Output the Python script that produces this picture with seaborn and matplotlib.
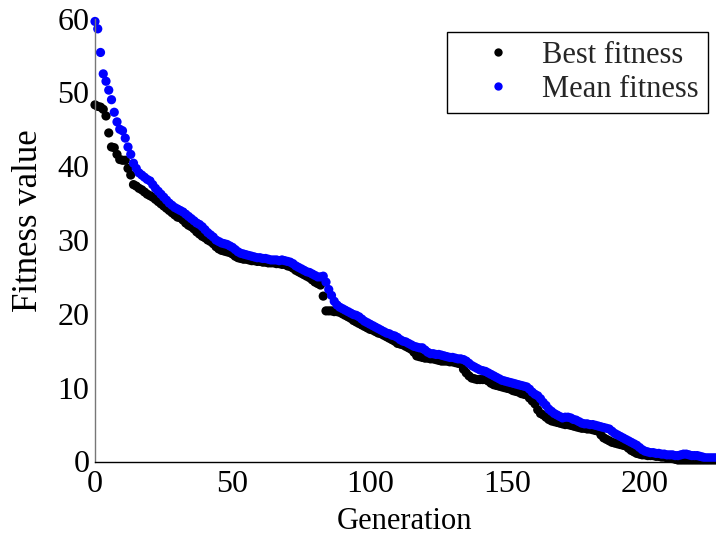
import numpy as np
import pandas as pd
import matplotlib
matplotlib.use("Agg")
import matplotlib.pyplot as plt
import seaborn as sns

# ---------------- data ----------------
best_fitness = [
    48.3, 48.1, 48.0, 47.7, 46.8, 44.5, 42.6, 42.5, 41.6, 40.9,
    40.8, 40.8, 39.7, 38.8, 37.5, 37.3, 37.0, 36.8, 36.5, 36.2,
    36.0, 35.8, 35.5, 35.2, 34.9, 34.6, 34.3, 34.0, 33.7, 33.4,
    33.1, 33.0, 32.7, 32.3, 32.0, 31.8, 31.5, 31.1, 30.8, 30.5,
    30.3, 30.0, 29.8, 29.5, 29.1, 28.8, 28.6, 28.5, 28.4, 28.3,
    28.1, 27.8, 27.6, 27.5, 27.4, 27.4, 27.3, 27.2, 27.2, 27.1,
    27.1, 27.0, 27.0, 26.9, 26.9, 26.9, 26.8, 26.8, 26.7, 26.7,
    26.5, 26.4, 26.2, 25.9, 25.7, 25.5, 25.3, 25.1, 24.9, 24.6,
    24.3, 24.1, 23.9, 22.4, 20.4, 20.4, 20.4, 20.3, 20.3, 20.2,
    20.0, 19.8, 19.6, 19.4, 19.1, 18.9, 18.7, 18.5, 18.3, 18.1,
    17.9, 17.8, 17.6, 17.4, 17.3, 17.1, 16.9, 16.7, 16.5, 16.3,
    16.0, 15.9, 15.8, 15.6, 15.4, 15.2, 14.8, 14.3, 14.2, 14.1,
    14.0, 14.0, 13.9, 13.9, 13.8, 13.7, 13.6, 13.6, 13.6, 13.5,
    13.5, 13.4, 13.3, 13.2, 12.5, 12.0, 11.6, 11.3, 11.2, 11.1,
    11.1, 11.1, 11.1, 10.9, 10.6, 10.4, 10.3, 10.2, 10.1, 10.0,
    9.9, 9.8, 9.6, 9.5, 9.4, 9.2, 9.1, 9.0, 8.6, 8.2,
    7.8, 7.0, 6.5, 6.3, 6.0, 5.7, 5.5, 5.4, 5.3, 5.2,
    5.1, 5.0, 5.0, 4.9, 4.8, 4.7, 4.6, 4.5, 4.5, 4.4,
    4.4, 4.3, 4.2, 4.1, 3.6, 3.2, 3.0, 2.8, 2.6, 2.5,
    2.4, 2.3, 2.2, 2.1, 1.8, 1.5, 1.3, 1.1, 1.0, 0.9,
    0.9, 0.8, 0.8, 0.8, 0.7, 0.7, 0.6, 0.6, 0.5, 0.5,
    0.4, 0.3, 0.2, 0.2, 0.2, 0.2, 0.2, 0.2, 0.2, 0.2,
    0.2, 0.2, 0.2, 0.2, 0.2, 0.2, 0.2,
]

mean_fitness = [
    59.6, 58.6, 55.4, 52.5, 51.5, 50.3, 49.0, 47.3, 46.0, 45.0,
    44.8, 43.8, 42.6, 41.6, 40.4, 39.7, 39.1, 38.8, 38.5, 38.2,
    38.0, 37.5, 37.0, 36.6, 36.2, 35.8, 35.4, 35.0, 34.7, 34.4,
    34.2, 34.0, 33.8, 33.5, 33.2, 32.9, 32.6, 32.3, 32.1, 31.8,
    31.4, 31.0, 30.7, 30.4, 30.0, 29.8, 29.6, 29.5, 29.4, 29.2,
    29.0, 28.7, 28.4, 28.2, 28.1, 28.0, 27.9, 27.8, 27.7, 27.6,
    27.6, 27.5, 27.5, 27.4, 27.3, 27.3, 27.3, 27.2, 27.3, 27.2,
    27.1, 27.0, 26.8, 26.5, 26.3, 26.1, 25.9, 25.7, 25.6, 25.4,
    25.2, 25.0, 25.0, 25.1, 24.3, 23.3, 22.5, 21.7, 21.2, 20.9,
    20.7, 20.5, 20.3, 20.1, 19.9, 19.8, 19.6, 19.3, 19.0, 18.8,
    18.6, 18.4, 18.2, 18.0, 17.8, 17.6, 17.4, 17.3, 17.1, 17.0,
    16.8, 16.5, 16.3, 16.2, 16.0, 15.8, 15.6, 15.5, 15.4, 15.4,
    15.1, 14.8, 14.6, 14.6, 14.5, 14.5, 14.4, 14.3, 14.2, 14.1,
    14.1, 14.0, 13.9, 13.9, 13.8, 13.6, 13.3, 13.0, 12.8, 12.6,
    12.4, 12.3, 12.2, 12.0, 11.8, 11.6, 11.4, 11.2, 11.0, 10.9,
    10.8, 10.7, 10.6, 10.5, 10.4, 10.3, 10.2, 10.1, 9.8, 9.4,
    9.1, 8.9, 8.5, 8.0, 7.6, 7.1, 6.8, 6.5, 6.3, 6.1,
    5.9, 6.0, 6.0, 5.9, 5.7, 5.6, 5.4, 5.2, 5.1, 5.1,
    5.0, 5.0, 4.9, 4.8, 4.7, 4.6, 4.5, 4.4, 4.1, 3.8,
    3.6, 3.4, 3.2, 3.0, 2.8, 2.6, 2.4, 2.2, 1.9, 1.6,
    1.4, 1.3, 1.2, 1.2, 1.1, 1.1, 1.0, 1.0, 0.9, 0.9,
    0.9, 0.8, 0.8, 0.9, 1.0, 1.0, 0.9, 0.8, 0.8, 0.8,
    0.7, 0.6, 0.5, 0.5, 0.5, 0.5, 0.5,
]

series_names = ["Best fitness", "Mean fitness"]
series_colors = ["black", "blue"]
x_ticks = [0, 50, 100, 150, 200]
y_ticks = [0, 10, 20, 30, 40, 50, 60]

# ---------------- build long table ----------------
n = len(best_fitness)
generations = list(range(n))
df = pd.DataFrame({
    "Generation": generations + generations,
    "Fitness value": best_fitness + mean_fitness,
    "Series": [series_names[0]] * n + [series_names[1]] * n,
})

sns.set_theme(style="white")
plt.rcParams["font.family"] = ["Liberation Serif", "DejaVu Serif"]

W, H = 716, 540
fig = plt.figure(figsize=(W / 100, H / 100), dpi=100)
ax_bottom_px, x0_px, y_top_px = 461.5, 95, 18.5
ax = fig.add_axes([x0_px / W, (H - ax_bottom_px) / H,
                   632.5 / W, (ax_bottom_px - y_top_px) / H])

sns.scatterplot(data=df, x="Generation", y="Fitness value", hue="Series",
                palette=dict(zip(series_names, series_colors)),
                s=44, linewidth=0, ax=ax, clip_on=False, legend=True)

ax.set_xlim(0, 230)
ax.set_ylim(0, 60)
ax.set_xticks(x_ticks)
ax.set_yticks(y_ticks)

for side in ["top", "right"]:
    ax.spines[side].set_visible(False)
ax.spines["left"].set_color("#777777")
ax.spines["left"].set_linewidth(1.0)
ax.spines["bottom"].set_color("black")
ax.spines["bottom"].set_linewidth(1.0)

ax.tick_params(axis="both", direction="in", length=4, width=1,
               colors="black", labelsize=23, pad=4)
ax.tick_params(axis="x", pad=6)

ax.set_xlabel("Generation", fontsize=22, color="black")
ax.set_ylabel("Fitness value", fontsize=25, color="black")
ax.xaxis.set_label_coords((405 - x0_px) / 632.5, (ax_bottom_px - 507) / 443)
ax.yaxis.set_label_coords((12 - x0_px) / 632.5, (ax_bottom_px - 221) / 443)
ax.yaxis.label.set_va("top")

handles, labels = ax.get_legend_handles_labels()
for h in handles:
    try:
        h.set_markersize(6)
    except Exception:
        pass
leg = ax.legend(handles, labels, loc="upper right",
                bbox_to_anchor=(708 / W, 1 - 32 / H),
                bbox_transform=fig.transFigure, borderaxespad=0,
                fontsize=22, frameon=True, fancybox=False,
                edgecolor="black", framealpha=1, handlelength=2.7,
                handletextpad=0.1, borderpad=0.3, labelspacing=0.15)
leg.get_frame().set_linewidth(1.0)

fig.savefig("out.png", dpi=100)
